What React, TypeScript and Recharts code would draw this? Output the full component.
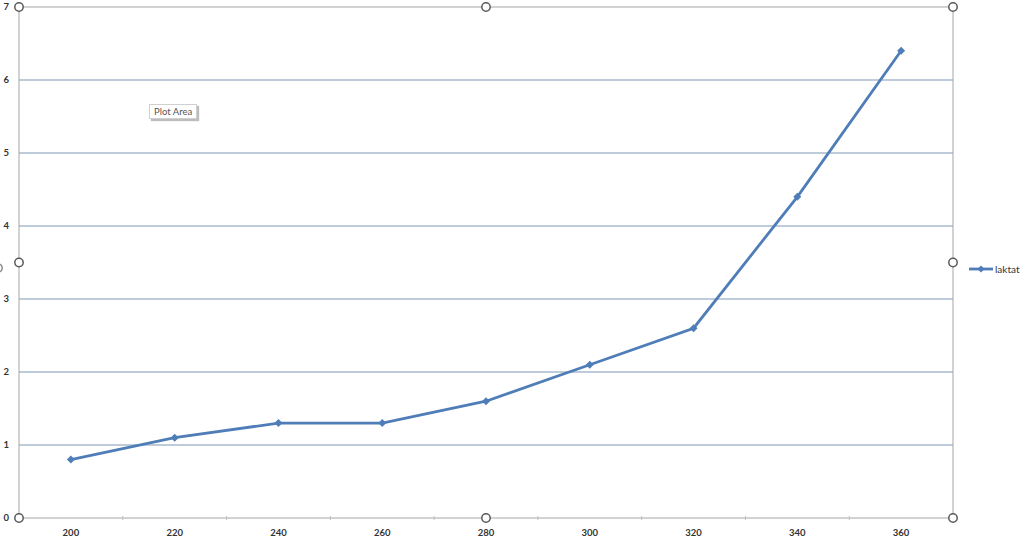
import React from 'react'
import {LineChart, Line, XAxis, YAxis, CartesianGrid, ReferenceLine} from 'recharts'

// Excel-style lactate chart (plot area selected)
const categories = [200, 220, 240, 260, 280, 300, 320, 340, 360]
const laktat = [0.8, 1.1, 1.3, 1.3, 1.6, 2.1, 2.6, 4.4, 6.4]
const yTicks = [0, 1, 2, 3, 4, 5, 6, 7]
// boundary ticks sit between categories, labels on the categories
const xTicks = [200, 210, 220, 230, 240, 250, 260, 270, 280, 290, 300, 310, 320, 330, 340, 350, 360]

const data = categories.map((c, i) => ({x: c, laktat: laktat[i]}))

const W = 1024
const H = 540
const M = {top: 7, right: 71, bottom: 0, left: 0}
const Y_W = 19
const X_H = 22
const LINE = '#4F7DB8'
const FONT = 'Lato, "Open Sans", sans-serif'

const plot = {x1: M.left + Y_W, x2: W - M.right, y1: M.top, y2: H - M.bottom - X_H}

const XTick = ({x, y, payload}: any) => {
  if (payload.value % 20 === 10) {
    return <line x1={x} x2={x} y1={y - 2} y2={y + 2} stroke="#BFBFBF" />
  }
  return (
    <text x={x} y={y + 18} textAnchor="middle" fontSize={9.5} fontFamily={FONT} fill="#333" fontWeight={700}>
      {payload.value}
    </text>
  )
}

const Diamond = ({cx, cy, index}: any) => (
  <path key={index} d={`M${cx},${cy - 4}L${cx + 4},${cy}L${cx},${cy + 4}L${cx - 4},${cy}Z`} fill={LINE} />
)

const handles = [
  [plot.x1, plot.y1],
  [(plot.x1 + plot.x2) / 2, plot.y1],
  [plot.x2, plot.y1],
  [plot.x1, (plot.y1 + plot.y2) / 2],
  [plot.x2, (plot.y1 + plot.y2) / 2],
  [plot.x1, plot.y2],
  [(plot.x1 + plot.x2) / 2, plot.y2],
  [plot.x2, plot.y2],
]

export default function App() {
  return (
    <div style={{position: 'absolute', left: 0, top: 0, width: W, height: H, background: '#fff'}}>
      <LineChart width={W} height={H} data={data} margin={M}>
        <CartesianGrid vertical={false} stroke="#7D97B6" horizontalValues={[1, 2, 3, 4, 5, 6]} />
        <XAxis
          dataKey="x"
          type="number"
          domain={[190, 370]}
          ticks={xTicks}
          interval={0}
          height={X_H}
          tickLine={false}
          tickSize={0}
          tickMargin={0}
          stroke="#A6A6A6"
          tick={<XTick />}
        />
        <YAxis
          domain={[0, 7]}
          ticks={yTicks}
          interval={0}
          width={Y_W}
          tickLine={false}
          tickSize={0}
          tickMargin={10}
          stroke="#A6A6A6"
          tick={{fontSize: 9.5, fontFamily: FONT, fill: '#333', fontWeight: 700}}
        />
        <ReferenceLine y={7} stroke="#A6A6A6" />
        <ReferenceLine x={370} stroke="#A6A6A6" />
        <Line
          isAnimationActive={false}
          type="linear"
          dataKey="laktat"
          name="laktat"
          stroke={LINE}
          strokeWidth={2.8}
          dot={<Diamond />}
          activeDot={false}
        />
      </LineChart>
      <svg width={W} height={H} style={{position: 'absolute', left: 0, top: 0, pointerEvents: 'none'}}>
        {handles.map(([hx, hy], i) => (
          <circle key={i} cx={hx} cy={hy} r={4.2} fill="#fff" stroke="#595959" strokeWidth={1.5} />
        ))}
        <circle cx={-2} cy={268} r={4.2} fill="#fff" stroke="#8C8C8C" strokeWidth={1.5} />
      </svg>
      <div
        style={{
          position: 'absolute',
          left: 969,
          top: 263,
          display: 'flex',
          alignItems: 'center',
          fontFamily: FONT,
          fontSize: 10,
          color: '#333',
        }}
      >
        <svg width={24} height={8}>
          <line x1={0} x2={24} y1={4} y2={4} stroke={LINE} strokeWidth={2.8} />
          <path d="M12,0.5L15.5,4L12,7.5L8.5,4Z" fill={LINE} />
        </svg>
        <span style={{marginLeft: 2}}>laktat</span>
      </div>
      <div
        style={{
          position: 'absolute',
          left: 149,
          top: 104,
          padding: '1px 4px',
          border: '1px solid #D0D0D0',
          background: '#fff',
          boxShadow: '2px 2px 1px #BDBDBD',
          fontFamily: FONT,
          fontSize: 9.5,
          color: '#555',
          whiteSpace: 'nowrap',
        }}
      >
        Plot Area
      </div>
    </div>
  )
}
